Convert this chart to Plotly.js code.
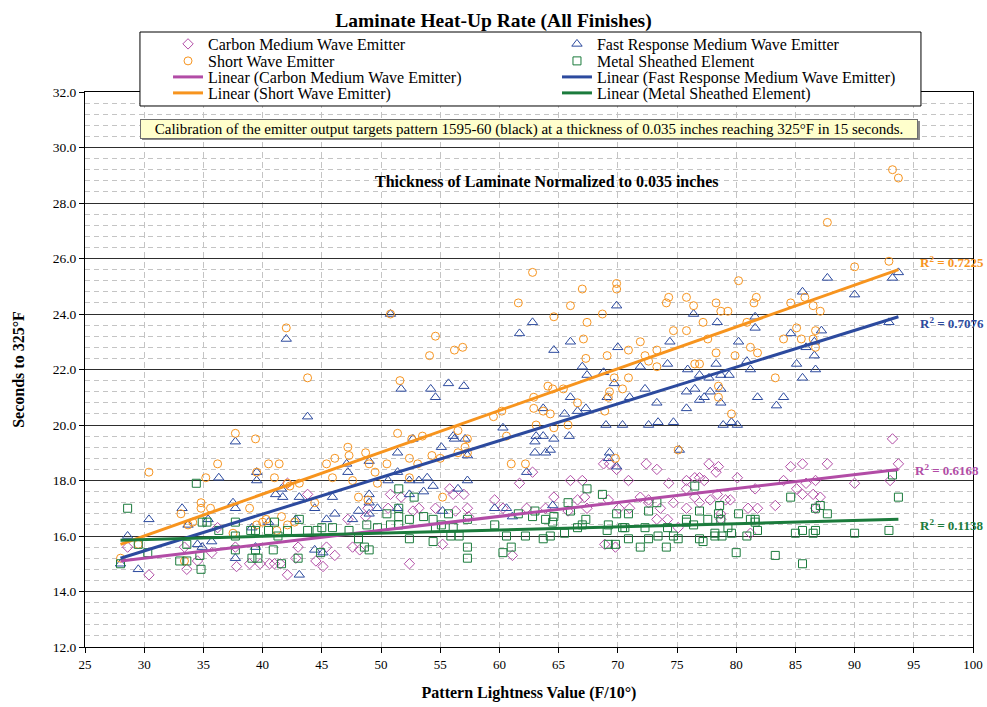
<!DOCTYPE html>
<html><head><meta charset="utf-8">
<script src="https://cdn.plot.ly/plotly-3.0.1.min.js"></script>
<style>html,body{margin:0;padding:0;background:#fff}#chart{width:987px;height:707px}</style>
</head><body><div id="chart"></div>
<script>
// Carbon Medium Wave Emitter  [x, y]
const carbonPts = [
[28.6,15.6],[30.4,14.6],[33.4,15.6],[33.6,14.8],[34.5,15.1],[35.7,15.4],[36.2,16.3],[37.7,15.6],[37.8,14.9],[38.9,15.0],
[39.8,15.0],[40.6,15.0],[41.0,15.0],[41.5,15.0],[42.1,17.9],[42.1,14.6],[42.8,15.2],[43.0,15.6],[43.8,17.5],[44.5,15.1],
[45.1,14.9],[45.4,15.6],[46.1,15.3],[47.2,16.6],[47.6,15.6],[48.2,15.5],[48.7,16.7],[48.9,17.0],[50.6,17.0],[50.8,17.5],
[51.7,17.4],[52.4,15.0],[52.7,16.9],[53.2,17.0],[54.6,17.0],[55.2,15.7],[55.8,17.7],[56.1,17.5],[56.3,16.9],[57.0,17.5],
[57.3,17.0],[57.4,16.7],[59.6,17.3],[60.3,17.0],[61.1,15.3],[61.7,17.9],[62.3,17.0],[62.8,18.3],[63.9,17.0],[64.6,17.4],
[65.8,16.9],[66.0,18.0],[66.6,17.3],[67.0,18.0],[67.2,17.4],[67.4,17.0],[68.8,18.6],[68.9,15.7],[69.2,17.3],[69.3,18.6],
[69.8,15.6],[69.9,18.4],[70.1,17.0],[70.9,18.0],[71.0,17.0],[71.9,17.4],[72.4,18.6],[72.6,17.3],[72.6,17.2],[73.3,18.4],
[73.3,16.6],[73.6,17.0],[74.2,16.6],[74.3,17.9],[74.7,17.2],[75.1,16.3],[75.8,17.7],[75.8,18.0],[75.8,17.0],[76.5,18.1],
[76.5,17.4],[76.9,18.1],[76.9,17.2],[77.3,18.0],[77.7,18.6],[77.8,17.3],[78.3,18.3],[78.4,17.5],[78.5,18.5],[78.7,16.8],
[78.7,16.6],[79.1,17.3],[79.5,17.3],[80.1,18.1],[81.0,17.0],[81.2,16.1],[81.6,17.7],[81.8,17.0],[83.3,17.1],[84.0,18.0],
[84.6,18.5],[85.1,17.7],[85.6,18.6],[85.6,17.5],[85.9,17.9],[86.5,17.5],[86.7,17.0],[86.7,18.0],[87.1,17.4],[87.7,18.6],
[90.0,17.9],[93.0,18.0],[93.2,19.5],[93.7,18.6]
];
// Fast Response Medium Wave Emitter  [x, y]
const fastPts = [
[28.0,15.0],[28.6,16.0],[29.5,14.8],[30.4,16.6],[33.2,17.0],[33.7,16.4],[34.5,15.7],[34.9,15.6],[35.4,16.6],[35.7,15.8],
[36.3,18.1],[37.5,17.2],[37.7,19.4],[37.7,17.0],[37.7,15.2],[39.1,16.3],[39.4,15.6],[39.5,18.3],[39.5,18.0],[40.5,16.5],
[41.1,17.5],[41.6,17.7],[41.7,17.4],[42.0,23.1],[42.8,16.6],[43.1,17.4],[43.1,14.6],[43.8,20.3],[44.4,17.0],[44.4,15.5],
[45.1,15.4],[45.4,16.6],[45.9,17.4],[46.1,16.8],[47.1,18.6],[47.2,18.3],[47.6,16.6],[48.1,16.9],[49.0,18.7],[49.0,17.5],
[49.0,17.2],[49.0,16.8],[49.7,17.0],[50.6,18.0],[50.8,24.0],[51.4,19.0],[51.4,18.3],[51.4,17.0],[51.7,21.3],[52.4,18.0],
[52.4,17.5],[52.7,19.5],[53.2,18.0],[53.6,17.6],[53.9,18.1],[54.2,21.3],[54.4,17.8],[54.6,21.0],[55.1,19.2],[55.2,16.9],
[55.7,21.5],[56.1,19.6],[56.2,19.5],[56.5,17.7],[57.0,21.4],[57.1,19.5],[57.3,18.9],[57.3,18.0],[59.6,17.0],[60.3,19.9],
[60.6,17.0],[61.1,16.7],[61.7,23.3],[62.3,18.3],[62.8,23.7],[63.0,19.4],[63.0,19.0],[63.1,19.6],[63.7,20.6],[63.7,19.6],
[63.9,19.0],[64.3,19.1],[64.5,17.1],[64.6,22.7],[64.6,19.5],[65.5,20.4],[65.9,19.6],[66.0,21.0],[66.0,23.0],[66.6,20.5],
[67.0,22.1],[67.3,20.6],[67.4,21.8],[68.8,21.9],[69.0,20.0],[69.1,21.0],[69.2,18.8],[69.3,19.0],[69.7,21.5],[69.9,18.5],
[69.9,24.3],[70.0,22.8],[70.4,20.0],[71.0,21.0],[71.9,22.1],[72.3,21.3],[72.6,20.0],[73.3,20.8],[73.4,20.1],[74.2,22.2],
[74.4,23.0],[74.7,20.1],[75.2,19.1],[75.8,21.2],[75.8,20.6],[75.9,22.0],[76.4,24.0],[76.5,21.3],[76.9,21.8],[76.9,20.9],
[77.3,21.0],[77.7,21.7],[77.8,21.2],[78.3,22.2],[78.4,23.7],[78.7,21.8],[78.7,21.3],[78.7,20.8],[78.9,20.0],[79.4,21.8],
[79.6,20.1],[80.1,20.0],[80.2,23.0],[80.9,22.3],[81.2,22.0],[81.6,23.9],[81.6,23.5],[81.8,21.0],[83.4,20.7],[84.0,21.0],
[84.6,23.3],[85.1,22.2],[85.6,21.7],[85.6,24.8],[85.9,22.8],[86.6,23.0],[86.6,22.5],[86.7,22.0],[87.2,23.4],[87.7,25.3],
[90.0,24.7],[92.9,23.7],[93.2,25.3],[93.7,25.5]
];
// Short Wave Emitter  [x, y]
const shortPts = [
[28.0,15.2],[29.5,15.7],[30.4,18.3],[33.1,16.8],[33.4,15.1],[33.7,16.4],[34.1,16.5],[34.8,17.2],[34.8,17.0],[35.2,18.1],
[35.6,17.0],[36.2,18.6],[37.5,16.1],[37.7,19.7],[38.9,17.0],[39.4,19.5],[39.5,18.3],[39.5,16.4],[40.0,16.5],[40.3,16.6],
[40.5,18.6],[41.0,18.1],[41.2,16.2],[41.4,18.6],[41.6,16.7],[42.0,23.5],[42.1,17.9],[42.1,16.4],[42.3,17.8],[42.7,16.5],
[43.1,17.9],[43.8,21.7],[44.4,17.2],[45.4,18.6],[45.9,18.1],[46.1,18.8],[47.2,19.2],[47.3,18.9],[47.6,18.0],[48.1,17.4],
[48.7,19.0],[48.9,17.3],[49.0,18.6],[49.5,18.3],[49.7,17.9],[50.5,18.6],[50.8,24.0],[51.4,19.7],[51.6,21.6],[52.4,18.8],
[52.4,18.1],[52.6,19.5],[53.1,18.6],[53.5,19.6],[54.1,22.5],[54.3,18.9],[54.6,23.2],[55.0,18.8],[55.2,17.4],[56.2,22.7],
[56.5,19.0],[56.9,22.8],[57.1,19.2],[57.3,19.0],[56.5,19.8],[57.3,19.5],[59.5,20.3],[60.2,20.5],[60.6,19.6],[61.0,18.6],
[61.6,24.4],[62.2,18.6],[62.8,25.5],[62.9,21.0],[62.9,20.6],[63.1,20.0],[63.7,20.5],[64.1,21.4],[64.3,20.4],[64.5,21.3],
[64.6,23.9],[64.6,19.9],[65.4,21.3],[65.8,20.0],[66.0,24.3],[66.6,20.8],[67.0,24.9],[67.1,23.1],[67.3,22.4],[67.4,23.7],
[68.7,24.0],[68.9,20.5],[69.1,22.5],[69.2,21.0],[69.3,21.2],[69.7,21.7],[69.8,18.8],[69.9,25.1],[69.9,24.9],[70.4,21.3],
[70.9,22.7],[70.9,21.7],[71.9,23.0],[72.3,22.5],[72.6,22.3],[73.3,22.7],[73.3,22.1],[74.1,24.4],[74.3,24.6],[74.7,23.4],
[75.1,19.1],[75.8,23.4],[75.8,24.6],[76.4,24.3],[76.5,22.2],[76.9,22.2],[77.2,23.7],[77.6,23.1],[78.3,24.4],[78.3,22.6],
[78.5,21.4],[78.5,21.0],[78.7,24.1],[79.3,24.1],[79.6,20.4],[79.9,22.5],[80.2,25.2],[80.9,23.7],[81.2,22.8],[81.5,24.4],
[81.7,24.6],[81.8,22.6],[83.3,21.7],[84.0,23.1],[84.6,24.4],[85.1,23.5],[85.5,23.1],[85.8,24.6],[86.5,24.3],[86.5,23.1],
[86.7,23.4],[86.7,22.8],[87.1,24.1],[87.7,27.3],[90.0,25.7],[92.9,25.9],[93.2,29.2],[93.7,28.9]
];
// Metal Sheathed Element  [x, y]
const metalPts = [
[28.0,15.0],[28.6,17.0],[29.5,15.7],[30.3,15.4],[33.0,15.1],[33.6,15.1],[33.6,15.7],[34.4,17.9],[34.7,15.3],[34.8,14.8],
[34.9,16.5],[35.3,16.5],[36.3,16.2],[37.7,16.5],[37.7,16.0],[37.7,15.5],[39.0,16.2],[39.4,16.2],[39.1,15.2],[39.6,15.2],
[39.4,15.5],[40.5,16.2],[41.0,16.5],[40.9,15.5],[41.3,16.0],[41.6,15.0],[42.1,16.2],[43.0,15.2],[43.1,16.6],[43.8,16.2],
[44.6,16.2],[45.0,16.3],[44.9,15.4],[45.9,16.3],[47.3,16.2],[48.1,15.9],[48.6,15.6],[49.0,15.5],[48.8,16.4],[49.7,16.3],
[50.5,16.8],[51.5,17.7],[52.8,17.4],[51.5,17.0],[51.5,16.7],[50.8,16.4],[51.5,16.4],[52.4,16.6],[52.4,15.9],[53.6,16.7],
[54.4,16.6],[54.6,16.3],[54.4,15.8],[55.1,16.4],[55.7,16.8],[56.1,16.3],[55.9,16.0],[56.6,16.0],[57.3,16.6],[57.3,15.6],
[57.3,15.2],[59.6,16.4],[60.6,16.0],[60.3,15.4],[61.0,15.6],[61.6,16.8],[62.2,16.0],[62.8,16.7],[63.0,16.9],[63.9,16.6],
[63.7,15.9],[64.3,16.0],[64.6,16.7],[64.5,16.5],[65.8,17.2],[66.0,16.9],[65.5,16.1],[66.6,16.3],[67.0,16.4],[67.3,16.6],
[67.4,17.7],[68.7,17.5],[69.1,16.2],[69.2,15.7],[69.8,15.7],[69.2,16.4],[69.9,16.8],[70.4,16.3],[70.9,15.9],[70.6,16.3],
[70.9,16.8],[71.9,15.6],[72.3,16.3],[72.6,16.9],[72.6,15.9],[73.3,17.2],[73.4,16.0],[74.1,15.6],[74.2,16.3],[74.7,16.0],
[75.1,15.9],[75.8,16.6],[75.8,16.5],[76.4,16.4],[76.5,17.8],[76.9,16.9],[76.9,15.9],[77.2,15.8],[77.6,16.6],[78.2,16.1],
[78.2,16.0],[78.5,16.8],[78.6,17.1],[78.7,16.6],[78.8,16.0],[79.3,16.3],[79.6,16.1],[80.0,15.4],[80.2,16.8],[80.9,16.0],
[81.2,16.6],[81.6,16.6],[81.6,16.5],[81.8,16.2],[83.3,15.3],[84.6,17.4],[85.0,16.1],[85.6,16.2],[85.6,15.0],[86.5,16.1],
[86.7,16.2],[86.7,17.0],[87.1,17.1],[87.7,16.8],[90.0,16.1],[92.9,16.2],[93.2,18.2],[93.7,17.4]
];
// Linear trendline end points (x range of data) and fitted values
const trendX = [28.0, 93.7];
const carbonFit = [15.1, 18.4];
const fastFit = [15.2, 23.9];
const shortFit = [15.7, 25.6];
const metalFit = [15.85, 16.6];
const r2Labels = ['R<sup>2</sup> = 0.6168','R<sup>2</sup> = 0.7076','R<sup>2</sup> = 0.7225','R<sup>2</sup> = 0.1138'];
const r2Y = [18.38, 23.68, 25.87, 16.40];
const seriesNames = ['Carbon Medium Wave Emitter','Fast Response Medium Wave Emitter','Short Wave Emitter','Metal Sheathed Element'];
const colors = ['#B24CA6','#2C4A9E','#F7941E','#1B7B3C'];
const symbols = ['diamond-open','triangle-up-open','circle-open','square-open'];
const sizes = [8,9,8,8];

const F = '"Liberation Serif", "Times New Roman", Times, serif';
const pts = [carbonPts, fastPts, shortPts, metalPts];
const fits = [carbonFit, fastFit, shortFit, metalFit];
// legend slots: markers first (rows 1-2), then trendlines (rows 3-4); two columns
const legendIds = ['legend','legend2','legend3','legend4','legend5','legend6','legend7','legend8'];
const traces = [];
pts.forEach((p,i)=>{
  traces.push({type:'scatter', mode:'markers', name:seriesNames[i], legend:legendIds[i],
    x:p.map(d=>d[0]), y:p.map(d=>d[1]),
    marker:{symbol:symbols[i], size:sizes[i], color:colors[i], line:{width:1, color:colors[i]}}});
});
fits.forEach((f,i)=>{
  traces.push({type:'scatter', mode:'lines', name:'Linear ('+seriesNames[i]+')', legend:legendIds[4+i],
    x:trendX, y:f, line:{color:colors[i], width:3}});
});

const annotations = [
  {xref:'paper', yref:'paper', x:0.5, y:0.934, xanchor:'center', yanchor:'middle', showarrow:false,
   text:'Calibration of the emitter output targets pattern 1595-60 (black) at a thickness of 0.035 inches reaching 325°F in 15 seconds.',
   bgcolor:'#FFFFCC', bordercolor:'#6e6e6e', borderwidth:1, borderpad:1, width:774, height:16, font:{family:F, size:15, color:'#000'}},
  {xref:'paper', yref:'paper', x:0.520, y:0.8396, xanchor:'center', yanchor:'middle', showarrow:false,
   text:'<b>Thickness of Laminate Normalized to 0.035 inches</b>', font:{family:F, size:16, color:'#000'}}
];
const r2X = [0.9324, 0.938, 0.938, 0.938];
r2Labels.forEach((t,i)=>{
  annotations.push({xref:'paper', yref:'y', x:r2X[i], y:r2Y[i], xanchor:'left', yanchor:'middle', showarrow:false,
    text:'<b>'+t+'</b>', font:{family:F, size:13, color:colors[i]}});
});

const layout = {
  width:987, height:707,
  margin:{l:85, r:14, t:92, b:60},
  paper_bgcolor:'#fff', plot_bgcolor:'#fff',
  font:{family:F, size:13, color:'#000'},
  title:{text:'<b>Laminate Heat-Up Rate (All Finishes)</b>', x:0.5, xref:'container', y:0.972, yref:'container', yanchor:'middle', font:{family:F, size:19.5, color:'#000'}},
  xaxis:{range:[25,100], tick0:25, dtick:5, ticks:'outside', ticklen:5, tickcolor:'#000',
    showline:true, linecolor:'#000', linewidth:1, mirror:true, zeroline:false,
    showgrid:true, gridcolor:'#c4c4c4', griddash:'6px,4px', automargin:false,
    tickfont:{family:F, size:13},
    title:{text:'<b>Pattern Lightness Value (F/10°)</b>', font:{family:F, size:16}, standoff:16}},
  yaxis:{range:[12,32], tick0:12, dtick:2, tickformat:'.1f', ticks:'outside', ticklen:5, tickcolor:'#000',
    showline:true, linecolor:'#000', linewidth:1, mirror:true, zeroline:false,
    showgrid:true, gridcolor:'#2e2e2e', gridwidth:1, automargin:false,
    minor:{tick0:12, dtick:0.4, showgrid:true, gridcolor:'#c4c4c4', griddash:'5px,4px', ticks:''},
    tickfont:{family:F, size:13.5},
    title:{text:'<b>Seconds to 325°F</b>', font:{family:F, size:16}, standoff:24}},
  shapes:[
    {type:'rect', xref:'paper', yref:'paper', x0:0.0619, x1:0.9414, y0:0.9748, y1:1.1081,
     fillcolor:'#fff', line:{width:1, color:'#000'}, layer:'above'},
    {type:'rect', xref:'paper', yref:'paper', x0:0.0642, x1:0.9403, y0:0.9135, y1:0.9477,
     fillcolor:'#8a8a8a', line:{width:0}, layer:'above'}],
  annotations:annotations,
  showlegend:true
};
// one legend per entry, placed in a 2-column grid inside the framed box (plot-area fractions)
const legX = [0.0935, 0.5315];
const legY = [1.0865, 1.0559, 1.0270, 0.9982];
legendIds.forEach((id,k)=>{
  layout[id] = {xref:'paper', yref:'paper', x:legX[k%2], xanchor:'left',
    y:legY[Math.floor(k/2)], yanchor:'middle', orientation:'v',
    bgcolor:'rgba(0,0,0,0)', borderwidth:0, font:{family:F, size:16, color:'#000'}};
});
Plotly.newPlot('chart', traces, layout, {displayModeBar:false, staticPlot:true});
</script>
</body></html>
